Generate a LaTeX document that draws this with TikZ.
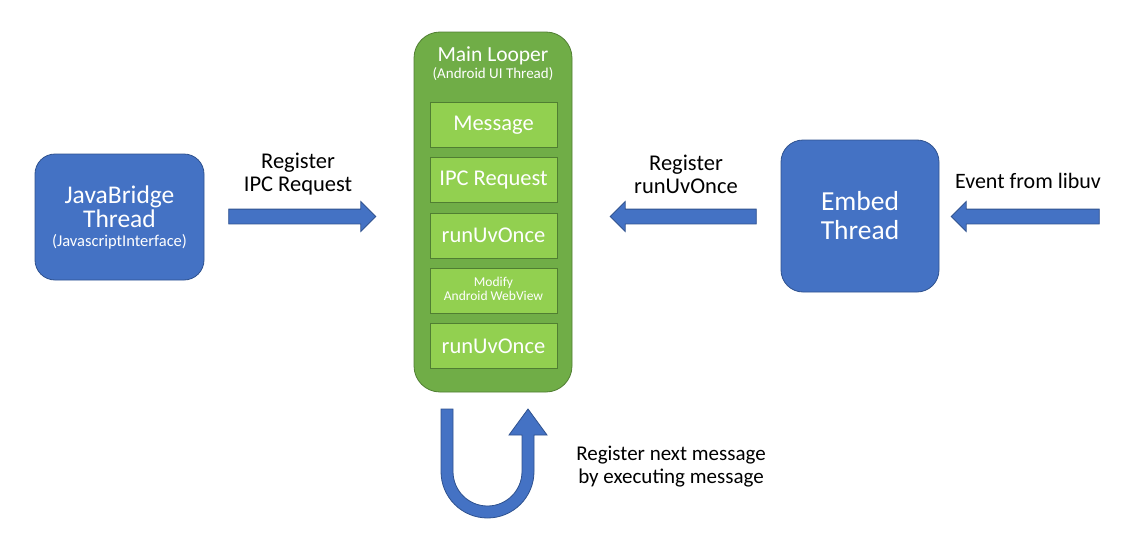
\documentclass[tikz,border=0pt]{standalone}
\usepackage{fontspec}
\setmainfont{Carlito}
\usepackage{tikz}
\usetikzlibrary{matrix,fit,positioning,calc,shapes.arrows}

\definecolor{bridgeblue}{HTML}{4472C4}
\definecolor{bridgeedge}{HTML}{2F528F}
\definecolor{loopgreen}{HTML}{70AD47}
\definecolor{loopedge}{HTML}{507E32}
\definecolor{msggreen}{HTML}{92D050}

\begin{document}
\begin{tikzpicture}[x=1pt, y=-1pt,
        threadbox/.style={draw=bridgeedge, fill=bridgeblue, line width=0.8pt, rounded corners=22pt, text=white, align=center},
        blockarrow/.style={single arrow, draw=bridgeedge, fill=bridgeblue, line width=0.8pt, inner sep=7pt,
          single arrow head extend=7.5pt, single arrow head indent=0pt},
        caption/.style={align=center, font=\fontsize{22.5}{23}\selectfont}]
        \useasboundingbox (0,0) rectangle (1136,546);
        \node[draw=loopedge, fill=loopgreen, line width=0.8pt, rounded corners=26pt,
          minimum width=158pt, minimum height=360pt] (looper) at (493,212) {};
        \node[text=white, align=center, font=\fontsize{21.5}{17}\selectfont] (looptitle) at (493,64)
          {Main Looper\\{\fontsize{15}{16}\selectfont (Android UI Thread)}};
        \matrix(queue)[matrix of nodes, row sep=9.5pt,
          nodes={draw=loopedge, fill=msggreen, line width=0.8pt, minimum width=127pt, minimum height=45pt,
            inner sep=0pt, text=white, font=\fontsize{22.5}{24}\selectfont}] at (493.5,235.5)
        {
          Message \\
          IPC Request \\
          runUvOnce \\
          |[font=\fontsize{13.5}{14}\selectfont]| \begin{tabular}{@{}c@{}}Modify\\Android WebView\end{tabular} \\
          runUvOnce \\
        };
        \node[threadbox, rounded corners=20pt, minimum width=169pt, minimum height=126pt,
          font=\fontsize{25.5}{24}\selectfont] (javabridge) at (119.5,217)
          {JavaBridge\\Thread\\[-5pt]{\fontsize{16.5}{18}\selectfont (JavascriptInterface)}};
        \node[threadbox, minimum width=158pt, minimum height=152pt,
          font=\fontsize{27.5}{29}\selectfont] (embed) at (860,216) {Embed\\Thread};
        \foreach \name/\x/\len/\rot in {regipc/298.5/147/0, reguv/687/146/180, libuv/1029/148/180} {
          \node[blockarrow, minimum height=\len pt, shape border rotate=\rot] (\name) at (\x,216.5) {};
        };
        \draw[draw=bridgeedge, fill=bridgeblue, line width=0.8pt] (441,409) -- (441,471.5)
          arc[start angle=180, end angle=360, radius=46.5pt] -- (534,435) -- (547,435) -- (528,409)
          -- (509,435) -- (522,435) -- (522,471.5) arc[start angle=0, end angle=-180, radius=34.5pt]
          -- (453,409) -- cycle;
        \node[caption] (ipclabel) at (298,174) {Register\\IPC Request};
        \node[caption] (uvlabel) at (686,174) {Register\\runUvOnce};
        \node[caption, font=\fontsize{22}{23}\selectfont] (eventlabel) at (1028,181) {Event from libuv};
        \node[caption, font=\fontsize{21}{23}\selectfont] (looplabel) at (671,467)
          {Register next message\\by executing message};
      \end{tikzpicture}
\end{document}
